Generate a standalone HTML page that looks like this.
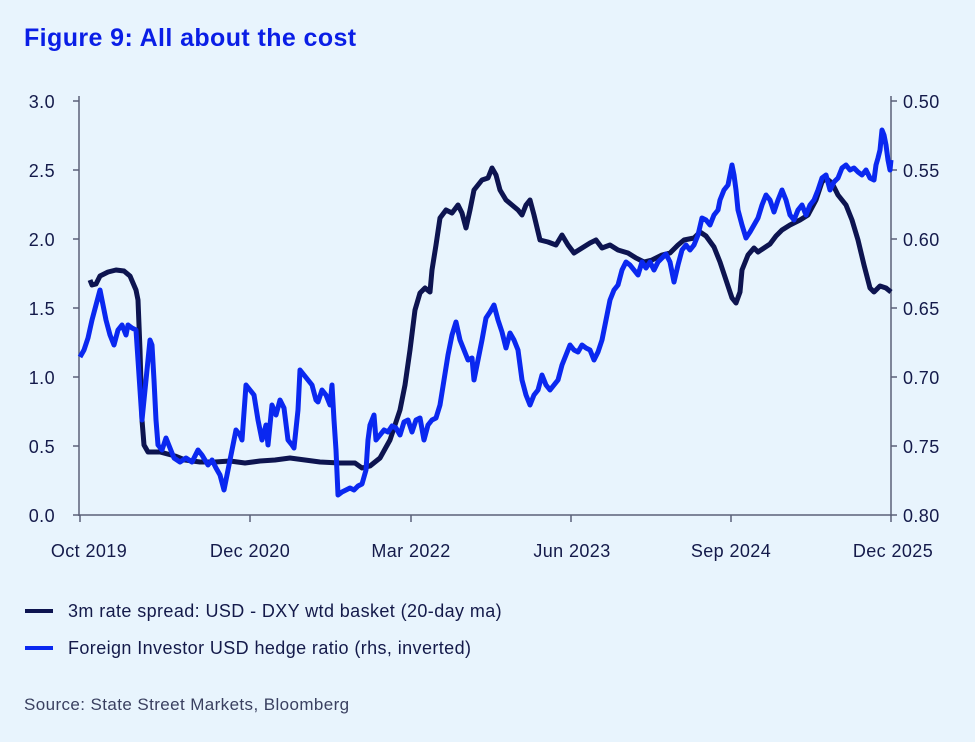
<!DOCTYPE html>
<html><head><style>
body{margin:0;background:#e8f4fd;}
svg{display:block;font-family:"Liberation Sans",sans-serif;}
</style></head><body>
<svg width="975" height="742" viewBox="0 0 975 742">
<rect width="975" height="742" fill="#e8f4fd"/>
<text x="24" y="46" font-size="25" font-weight="bold" fill="#0a1ee6" letter-spacing="0.4">Figure 9: All about the cost</text>
<g stroke="#5a6078" stroke-width="1.5" fill="none">
<line x1="79" y1="96" x2="79" y2="516"/>
<line x1="891" y1="96" x2="891" y2="516"/>
<line x1="73" y1="515" x2="897" y2="515"/>
<line x1="73" y1="101" x2="79" y2="101"/><line x1="73" y1="170" x2="79" y2="170"/><line x1="73" y1="239" x2="79" y2="239"/><line x1="73" y1="308" x2="79" y2="308"/><line x1="73" y1="377" x2="79" y2="377"/><line x1="73" y1="446" x2="79" y2="446"/>
<line x1="891" y1="101" x2="897" y2="101"/><line x1="891" y1="170" x2="897" y2="170"/><line x1="891" y1="239" x2="897" y2="239"/><line x1="891" y1="308" x2="897" y2="308"/><line x1="891" y1="377" x2="897" y2="377"/><line x1="891" y1="446" x2="897" y2="446"/>
<line x1="80" y1="515" x2="80" y2="522"/><line x1="250" y1="515" x2="250" y2="522"/><line x1="411" y1="515" x2="411" y2="522"/><line x1="571" y1="515" x2="571" y2="522"/><line x1="731" y1="515" x2="731" y2="522"/><line x1="891" y1="515" x2="891" y2="522"/>
</g>
<g font-size="18" fill="#141a4a" letter-spacing="0.4">
<g text-anchor="end"><text x="55" y="108">3.0</text><text x="55" y="177">2.5</text><text x="55" y="246">2.0</text><text x="55" y="315">1.5</text><text x="55" y="384">1.0</text><text x="55" y="453">0.5</text><text x="55" y="522">0.0</text></g>
<g><text x="903" y="108">0.50</text><text x="903" y="177">0.55</text><text x="903" y="246">0.60</text><text x="903" y="315">0.65</text><text x="903" y="384">0.70</text><text x="903" y="453">0.75</text><text x="903" y="522">0.80</text></g>
<g text-anchor="middle"><text x="89" y="557">Oct 2019</text><text x="250" y="557">Dec 2020</text><text x="411" y="557">Mar 2022</text><text x="572" y="557">Jun 2023</text><text x="731" y="557">Sep 2024</text><text x="893" y="557">Dec 2025</text></g>
</g>
<polyline fill="none" stroke="#0d1450" stroke-width="5" stroke-linejoin="round" points="90,280 92,285 96,284 100,276 108,272 116,270 124,271 130,276 136,290 138,300 140,350 142,420 144,445 148,452 160,452 175,456 185,460 200,462 215,462 230,461 245,463 260,461 275,460 290,458 305,460 320,462 340,463 355,463 362,468 370,466 380,458 390,440 400,410 405,385 410,350 415,310 420,293 425,288 430,292 432,270 436,245 440,218 446,210 452,213 458,205 462,213 466,228 470,210 474,190 478,185 482,180 488,178 492,168 496,175 500,190 506,200 512,205 518,210 522,215 526,205 530,200 534,215 540,240 548,242 556,245 562,235 568,245 574,253 582,248 590,243 596,240 602,248 610,245 618,250 628,253 636,258 644,262 652,260 662,255 670,253 678,245 684,240 694,238 700,232 706,236 714,247 720,262 726,280 732,298 736,303 740,292 742,270 748,255 754,248 758,252 764,248 770,244 776,236 782,230 790,225 800,220 808,215 816,200 822,182 826,178 832,183 838,195 846,205 852,220 858,240 864,265 870,288 874,292 880,286 886,288 891,292"/>
<polyline fill="none" stroke="#0a28f0" stroke-width="5" stroke-linejoin="round" points="80,357 84,350 88,338 92,320 96,305 100,290 102,300 106,320 110,335 114,345 118,330 122,325 126,335 128,325 132,328 136,330 138,360 140,390 142,420 144,400 146,380 148,360 150,340 152,345 154,380 156,420 158,445 162,450 166,438 170,448 174,458 180,462 186,458 192,462 198,450 202,455 208,465 212,460 216,468 220,475 224,490 228,470 232,450 236,430 240,435 242,440 246,385 250,390 254,395 258,420 262,440 266,425 268,445 272,405 276,415 280,400 284,408 288,440 292,445 294,448 298,410 300,370 304,375 308,380 312,385 316,400 318,402 322,390 326,395 330,405 332,385 334,420 336,450 338,495 342,492 346,490 350,488 354,490 358,486 362,484 366,470 368,440 370,425 374,415 376,440 380,435 384,430 388,432 392,426 396,428 400,435 404,422 408,420 412,432 416,420 420,418 424,440 428,425 432,420 436,418 440,405 444,380 448,355 452,335 456,322 460,340 464,350 468,360 472,358 474,380 478,360 482,340 486,318 490,312 494,305 498,320 502,332 506,348 510,333 514,340 518,350 522,380 526,395 530,405 534,395 538,390 542,375 546,385 550,390 554,385 558,380 562,365 566,355 570,345 574,350 578,352 582,345 586,348 590,350 594,360 598,352 602,340 606,320 610,300 614,290 618,285 622,270 626,262 630,265 634,270 638,275 642,262 646,268 650,262 654,270 658,262 662,258 666,254 670,262 674,282 678,265 682,250 686,245 690,250 694,245 698,235 702,218 706,220 710,225 714,215 718,210 720,200 724,190 728,185 732,165 734,175 736,190 738,210 742,225 746,238 750,232 754,225 758,218 762,205 766,195 770,200 774,212 778,200 782,190 786,200 790,215 794,220 798,210 802,205 806,215 810,205 814,200 818,190 822,178 826,175 830,190 834,182 838,178 842,168 846,165 850,170 854,168 858,172 862,175 866,170 870,178 874,180 876,165 878,158 880,150 882,130 884,135 886,145 888,160 890,170 891,160"/>
<line x1="25" y1="611" x2="53" y2="611" stroke="#0d1450" stroke-width="4"/>
<line x1="25" y1="648" x2="53" y2="648" stroke="#0a28f0" stroke-width="4"/>
<g font-size="18" fill="#141a4a" letter-spacing="0.4">
<text x="68" y="617">3m rate spread: USD - DXY wtd basket (20-day ma)</text>
<text x="68" y="654">Foreign Investor USD hedge ratio (rhs, inverted)</text>
<text x="24" y="710" font-size="17" fill="#3a4060">Source: State Street Markets, Bloomberg</text>
</g>
</svg>
</body></html>
